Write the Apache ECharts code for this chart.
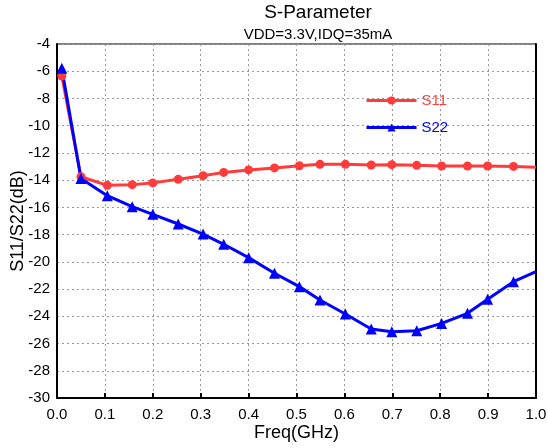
<!DOCTYPE html>
<html>
<head>
<meta charset="utf-8">
<script src="https://cdn.jsdelivr.net/npm/echarts@6/dist/echarts.min.js"></script>
<style>html,body{margin:0;padding:0;background:#fff}#c{width:548px;height:448px}</style>
</head>
<body>
<div id="c"></div>
<script>
const freq = [0.01, 0.05, 0.105, 0.157, 0.2, 0.253, 0.305, 0.348, 0.4, 0.454, 0.506, 0.549, 0.602, 0.656, 0.699, 0.751, 0.803, 0.857, 0.899, 0.953, 1.0];
const s11 = [-6.35, -13.75, -14.38, -14.33, -14.2, -13.94, -13.67, -13.43, -13.25, -13.1, -12.94, -12.84, -12.84, -12.89, -12.86, -12.91, -12.96, -12.96, -12.96, -12.99, -13.06];
const s22 = [-5.79, -13.87, -15.14, -15.95, -16.51, -17.22, -17.96, -18.71, -19.69, -20.84, -21.82, -22.8, -23.83, -24.93, -25.13, -25.06, -24.52, -23.78, -22.75, -21.46, -20.72];
const xTicks = ['0.0','0.1','0.2','0.3','0.4','0.5','0.6','0.7','0.8','0.9','1.0'];
const titleText = 'S-Parameter';
const subText = 'VDD=3.3V,IDQ=35mA';

const font = 'Liberation Sans, Arial, sans-serif';
const chart = echarts.init(document.getElementById('c'));
// last sample sits on the right frame: its marker is hidden there
const pair = ys => freq.map((f, i) => f >= 1 ? { value: [f, ys[i]], symbol: 'none' } : [f, ys[i]]);
chart.setOption({
  animation: false,
  textStyle: { fontFamily: font },
  title: {
    text: titleText, subtext: subText,
    left: 318, top: 3, textAlign: 'center', itemGap: 5, padding: 0,
    textStyle: { fontFamily: font, fontSize: 19, fontWeight: 'normal', color: '#000' },
    subtextStyle: { fontFamily: font, fontSize: 15, color: '#000' }
  },
  legend: {
    orient: 'vertical', left: 365, top: 93, padding: 0, itemWidth: 50, itemHeight: 10, itemGap: 12,
    textStyle: { fontFamily: font, fontSize: 15 },
    lineStyle: { width: 3 },
    data: [
      { name: 'S11', textStyle: { color: '#ff3b3b' } },
      { name: 'S22', textStyle: { color: '#0000ff' } }
    ]
  },
  grid: {
    left: 57, right: 12, top: 44, bottom: 50, containLabel: false, outerBoundsMode: 'none',
    show: true, borderColor: '#000', borderWidth: 1, backgroundColor: 'transparent'
  },
  xAxis: [{
    type: 'value', min: 0, max: 1, interval: 0.1,
    name: 'Freq(GHz)', nameLocation: 'middle', nameGap: 26, nameMoveOverlap: false,
    nameTextStyle: { fontFamily: font, fontSize: 18, color: '#000' },
    axisLine: { show: true, onZero: false, lineStyle: { color: '#000', width: 2 } },
    axisTick: { show: true, inside: true, length: 5, lineStyle: { color: '#000', width: 2 } },
    axisLabel: { fontFamily: font, fontSize: 15, color: '#000', margin: 9,
      formatter: v => xTicks[Math.round(v * 10)] },
    splitLine: { show: true, lineStyle: { color: '#999', type: [2, 3], width: 1 } }
  }],
  yAxis: [{
    type: 'value', min: -30, max: -4, interval: 2,
    name: 'S11/S22(dB)', nameLocation: 'middle', nameGap: 30, nameMoveOverlap: false,
    nameTextStyle: { fontFamily: font, fontSize: 18, color: '#000' },
    axisLine: { show: true, onZero: false, lineStyle: { color: '#000', width: 2 } },
    axisTick: { show: false },
    axisLabel: { fontFamily: font, fontSize: 15, color: '#000', margin: 7 },
    splitLine: { show: true, lineStyle: { color: '#999', type: [2, 3], width: 1 } }
  }, {
    type: 'value', min: -30, max: -4, interval: 2, position: 'right',
    axisLine: { show: true, onZero: false, lineStyle: { color: '#000', width: 2 } },
    axisTick: { show: false }, axisLabel: { show: false }, splitLine: { show: false }
  }],
  series: [{
    name: 'S11', type: 'line', data: pair(s11),
    symbol: 'circle', symbolSize: 9,
    color: '#ff3b3b', lineStyle: { width: 3, color: '#ff3b3b' },
    itemStyle: { color: '#ff3b3b' }
  }, {
    name: 'S22', type: 'line', data: pair(s22),
    symbol: 'triangle', symbolSize: 11,
    color: '#0000ff', lineStyle: { width: 3, color: '#0000ff' },
    itemStyle: { color: '#0000ff' }
  }]
});
</script>
</body>
</html>
